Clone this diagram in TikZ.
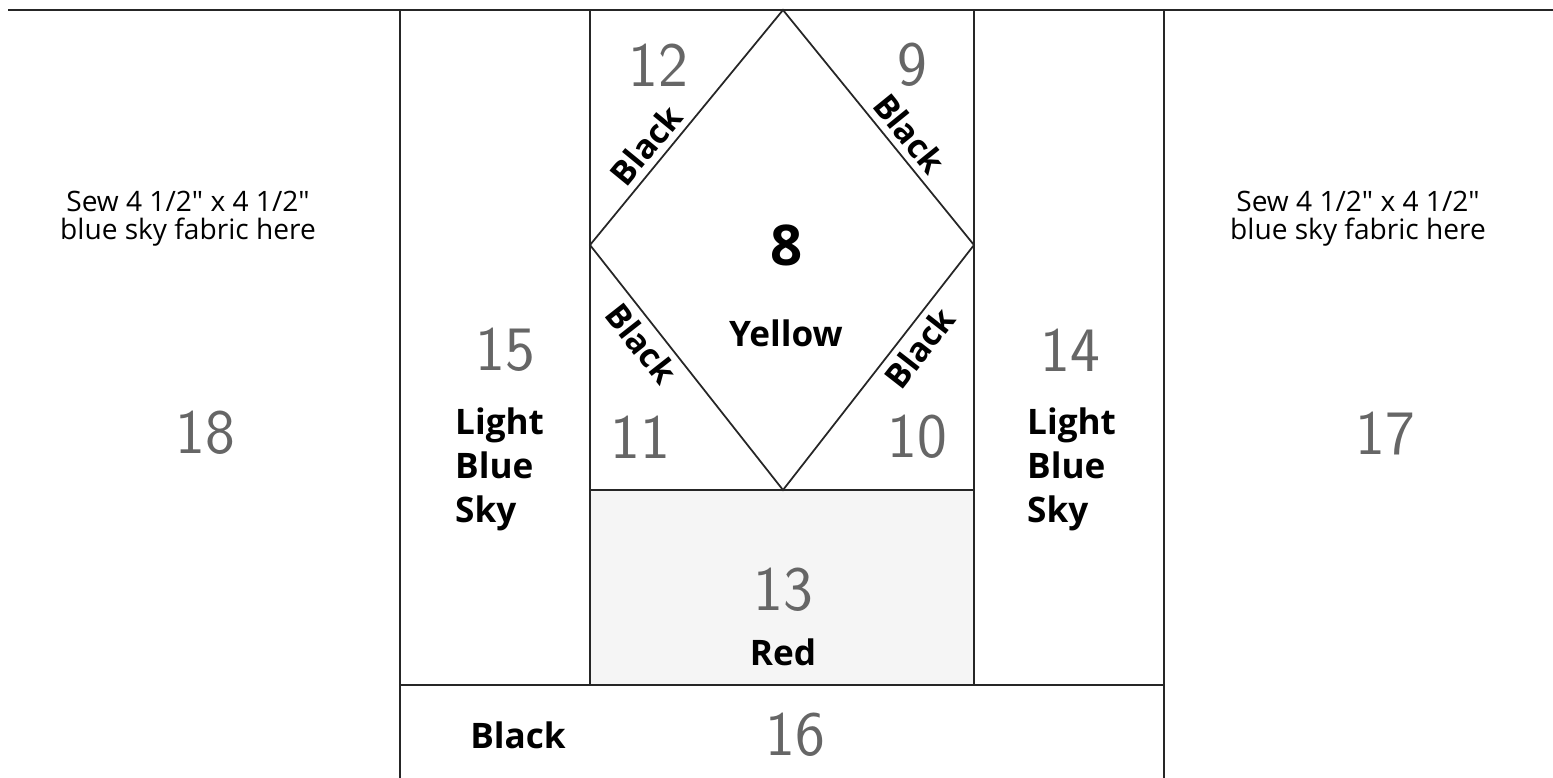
\documentclass[tikz,border=0pt]{standalone}
\usepackage{fontspec}
\setmainfont{Open Sans}
\begin{document}
\begin{tikzpicture}[x=0.02cm, y=-0.02cm,
    seam/.style={line width=1.4pt, draw=black!85},
    patchnum/.style={font=\sffamily\fontsize{36}{36}\selectfont, text=black!60},
    fabric/.style={font=\bfseries\fontsize{20}{25}\selectfont, align=left},
    cutnote/.style={font=\fontsize{16}{16}\selectfont, align=center},
    blacklbl/.style={font=\bfseries\fontsize{19}{20}\selectfont, sloped, inner sep=4pt}]

    \useasboundingbox (0,0) rectangle (1553,778);

    % Red patch
    \fill[gray!8] (590,490) rectangle (974,685);

    % Seams
    \draw[seam] (8,10) -- (1553,10);
    \draw[seam] (400,10) -- (400,778);
    \draw[seam] (1164,10) -- (1164,778);
    \draw[seam] (590,10) -- (590,685);
    \draw[seam] (974,10) -- (974,685);
    \draw[seam] (590,490) -- (974,490);
    \draw[seam] (400,685) -- (1164,685);

    % Diamond
    \coordinate (top) at (783,10);
    \coordinate (right) at (974,245);
    \coordinate (bottom) at (783,490);
    \coordinate (left) at (590,245);
    \draw[line width=1pt, black!85] (top) -- (right) -- (bottom) -- (left) -- cycle;

    \path (left) -- (top) node[blacklbl, pos=0.37, above] (blk12) {Black};
    \path (top) -- (right) node[blacklbl, pos=0.58, above] (blk9) {Black};
    \path (left) -- (bottom) node[blacklbl, pos=0.35, below] (blk11) {Black};
    \path (bottom) -- (right) node[blacklbl, pos=0.63, below] (blk10) {Black};

    % Patch numbers
    \node[patchnum] (n12) at (658,65) {12};
    \node[patchnum] (n9) at (912,65) {9};
    \node[patchnum] (n11) at (640,437) {11};
    \node[patchnum] (n10) at (917,437) {10};
    \node[patchnum] (n15) at (505,350) {15};
    \node[patchnum] (n14) at (1070,350) {14};
    \node[patchnum] (n18) at (205,433) {18};
    \node[patchnum] (n17) at (1385,433) {17};
    \node[patchnum] (n13) at (783,590) {13};
    \node[patchnum] (n16) at (795,735) {16};

    % Centre
    \node[font=\bfseries\fontsize{32}{32}\selectfont] (n8) at (787,245) {8};
    \node[fabric] (yellow) at (786,333) {Yellow};
    \node[fabric] (red) at (783,652) {Red};
    \node[fabric] (black16) at (518,735) {Black};

    % Side strips
    \node[fabric, anchor=north west] (sky15) at (449,402) {Light\\Blue\\Sky};
    \node[fabric, anchor=north west] (sky14) at (1021,402) {Light\\Blue\\Sky};

    % Corner notes
    \node[cutnote] (note18) at (188,219) {Sew 4 1/2\textquotedbl{} x 4 1/2\textquotedbl\\blue sky fabric here};
    \node[cutnote] (note17) at (1358,219) {Sew 4 1/2\textquotedbl{} x 4 1/2\textquotedbl\\blue sky fabric here};
\end{tikzpicture}
\end{document}
